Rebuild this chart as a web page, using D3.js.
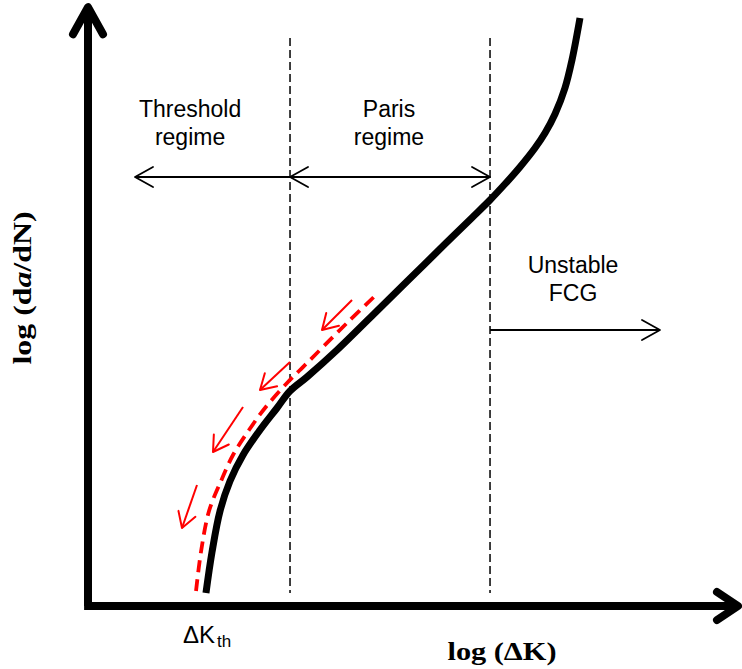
<!DOCTYPE html>
<html>
<head>
<meta charset="utf-8">
<script src="https://cdn.jsdelivr.net/npm/d3@7"></script>
<style>
  body { margin: 0; background: #fff; }
  svg { display: block; }
  .sans { font-family: "Liberation Sans", Arial, sans-serif; font-size: 23px; }
  .serif { font-family: "Liberation Serif", "Times New Roman", serif; font-weight: bold; font-size: 26px; }
</style>
</head>
<body>
<svg id="chart" width="742" height="669"></svg>
<script>
// fatigue crack growth curve, arbitrary log units (0..10 on both axes)
var curveX = [1.815, 1.908, 2.031, 2.185, 2.385, 2.646, 2.908, 3.108, 3.369, 3.831, 4.500, 5.000, 5.500, 5.900, 6.185, 6.415, 6.646, 6.877, 7.031, 7.185, 7.338, 7.446, 7.569];
var curveY = [0.217, 0.900, 1.583, 2.083, 2.517, 2.933, 3.300, 3.583, 3.817, 4.267, 4.977, 5.508, 6.040, 6.464, 6.767, 7.033, 7.317, 7.633, 7.883, 8.200, 8.633, 9.100, 9.800];

// red dashed (decreasing load) curve
var redX = [1.662, 1.738, 1.862, 2.046, 2.231, 2.477, 2.723, 3.062, 3.262, 3.523, 3.985, 4.462];
var redY = [0.250, 0.900, 1.583, 2.083, 2.517, 2.933, 3.300, 3.717, 3.933, 4.217, 4.717, 5.217];

// red arrows: start x, start y, end x, end y
var redArrowX0 = [4.062, 3.108, 2.385, 1.677];
var redArrowY0 = [5.100, 4.067, 3.317, 2.017];
var redArrowX1 = [3.600, 2.646, 1.923, 1.446];
var redArrowY1 = [4.600, 3.600, 2.567, 1.300];

// regime boundaries
var boundaries = [3.108, 6.185];
var boundaryTop = 9.467, boundaryBottom = 0.217;

// regime arrows
var regimeNames = [["Threshold", "regime"], ["Paris", "regime"], ["Unstable", "FCG"]];
var regimeX0 = [3.108, 3.108, 6.185];
var regimeX1 = [0.723, 6.185, 8.800];
var regimeY = [7.150, 7.150, 4.600];
var regimeBothEnds = [false, true, false];
var regimeLabelX = [1.570, 4.631, 7.462];
var regimeLabelY = [8.150, 8.150, 5.550];

var svg = d3.select("#chart");
var x = d3.scaleLinear().domain([0, 10]).range([88, 738]);
var y = d3.scaleLinear().domain([0, 10]).range([606, 6]);

function head(g, tx, ty, fx, fy, len, wid, color, sw) {
  var dx = tx - fx, dy = ty - fy, d = Math.sqrt(dx * dx + dy * dy);
  var ux = dx / d, uy = dy / d;
  var bx = tx - ux * len, by = ty - uy * len;
  g.append("path")
    .attr("d", "M" + (bx - uy * wid) + "," + (by + ux * wid) + "L" + tx + "," + ty +
               "L" + (bx + uy * wid) + "," + (by - ux * wid))
    .attr("fill", "none").attr("stroke", color).attr("stroke-width", sw)
    .attr("stroke-linecap", "round").attr("stroke-linejoin", "round");
}

// dashed boundaries
svg.selectAll("line.bound").data(boundaries).enter().append("line")
  .attr("class", "bound")
  .attr("x1", function(d) { return x(d); }).attr("x2", function(d) { return x(d); })
  .attr("y1", y(boundaryTop)).attr("y2", y(boundaryBottom))
  .attr("stroke", "#000").attr("stroke-width", 1.5).attr("stroke-dasharray", "8,4");

// regime arrows + labels
regimeNames.forEach(function(names, i) {
  var g = svg.append("g");
  var px0 = x(regimeX0[i]), px1 = x(regimeX1[i]), py = y(regimeY[i]);
  g.append("line").attr("x1", px0).attr("x2", px1).attr("y1", py).attr("y2", py)
    .attr("stroke", "#000").attr("stroke-width", 1.8);
  head(g, px1, py, px0, py, 18, 10, "#000", 1.8);
  if (regimeBothEnds[i]) head(g, px0, py, px1, py, 18, 10, "#000", 1.8);
  var t = g.append("text").attr("class", "sans").attr("text-anchor", "middle");
  names.forEach(function(n, j) {
    t.append("tspan").attr("x", x(regimeLabelX[i])).attr("y", y(regimeLabelY[i]) + j * 28).text(n);
  });
});

// red dashed curve
var smooth = d3.line().x(function(d) { return x(d[0]); }).y(function(d) { return y(d[1]); })
  .curve(d3.curveCatmullRom.alpha(0.5));
svg.append("path").datum(d3.zip(redX, redY)).attr("d", smooth)
  .attr("fill", "none").attr("stroke", "#ff0000").attr("stroke-width", 3.8)
  .attr("stroke-dasharray", "12,7");

// red arrows
redArrowX0.forEach(function(d, i) {
  var g = svg.append("g");
  var ax0 = x(d), ay0 = y(redArrowY0[i]), ax1 = x(redArrowX1[i]), ay1 = y(redArrowY1[i]);
  g.append("line").attr("x1", ax0).attr("y1", ay0).attr("x2", ax1).attr("y2", ay1)
    .attr("stroke", "#ff0000").attr("stroke-width", 2);
  head(g, ax1, ay1, ax0, ay0, 15, 9, "#ff0000", 2);
});

// main black curve
svg.append("path").datum(d3.zip(curveX, curveY)).attr("d", smooth)
  .attr("fill", "none").attr("stroke", "#000").attr("stroke-width", 7);

// axes with arrow heads
svg.append("line").attr("x1", x(0)).attr("y1", y(0)).attr("x2", x(0)).attr("y2", y(9.95))
  .attr("stroke", "#000").attr("stroke-width", 8);
head(svg, x(0), y(9.98), x(0), y(0), 27, 15, "#000", 8);
svg.append("line").attr("x1", x(-0.06)).attr("y1", y(0)).attr("x2", x(9.97)).attr("y2", y(0))
  .attr("stroke", "#000").attr("stroke-width", 8);
head(svg, x(10), y(0), x(0), y(0), 21, 14, "#000", 8);

// axis titles
svg.append("text").attr("class", "serif").attr("text-anchor", "middle")
  .attr("transform", "translate(31," + 288 + ") rotate(-90)")
  .attr("textLength", 153).attr("lengthAdjust", "spacingAndGlyphs")
  .html('log (d<tspan font-style="italic">a</tspan>/dN)');
svg.append("text").attr("class", "serif").attr("text-anchor", "middle")
  .attr("x", 502).attr("y", 660)
  .attr("textLength", 109).attr("lengthAdjust", "spacingAndGlyphs")
  .text("log (\u0394K)");

// threshold label
var th = svg.append("text").attr("class", "sans").attr("x", 183).attr("y", 643);
th.append("tspan").attr("font-size", 24).text("\u0394K");
th.append("tspan").attr("font-size", 17).attr("dy", 4).attr("dx", 2).text("th");
</script>
</body>
</html>
